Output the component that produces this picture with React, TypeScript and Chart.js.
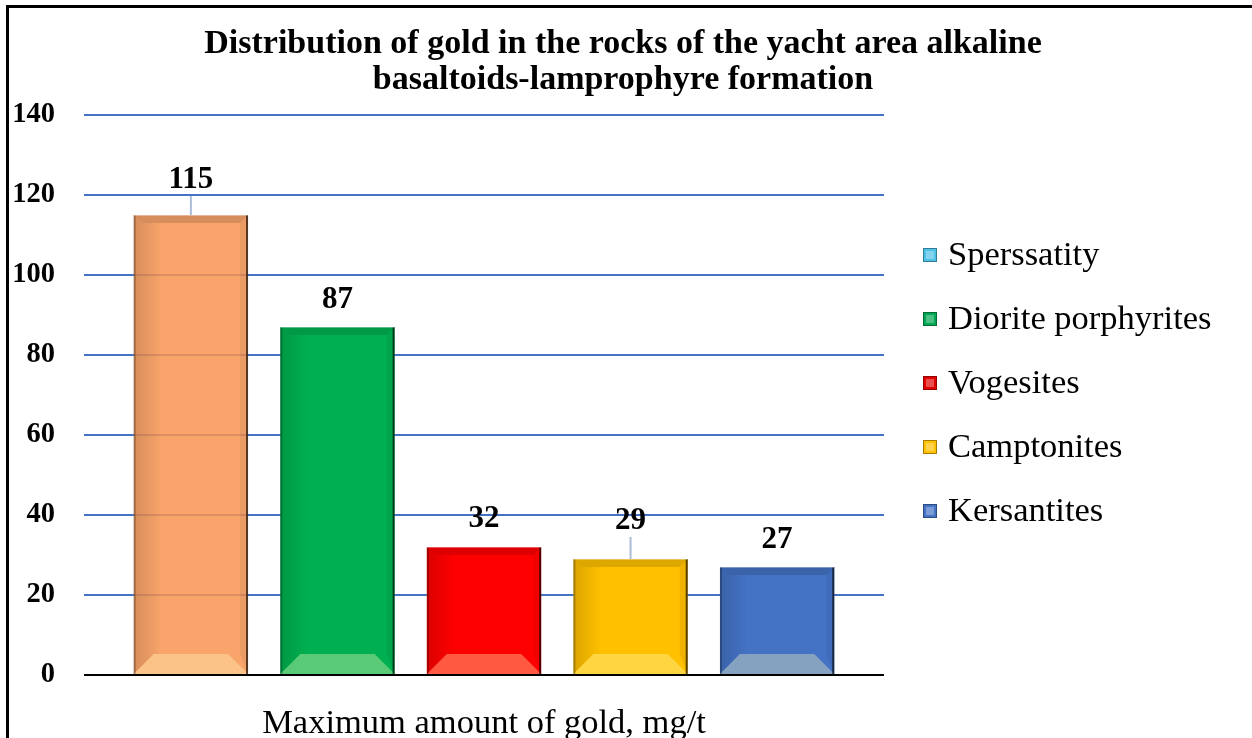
import React, { useEffect, useRef } from "react";
import { Chart, registerables } from "chart.js";

Chart.register(...registerables);

// ---- data ----
const categories = ["Maximum amount of gold, mg/t"];
const seriesNames = ["Sperssatity", "Diorite porphyrites", "Vogesites", "Camptonites", "Kersantites"];
const goldValues = [115, 87, 32, 29, 27];
const yMin = 0;
const yMax = 140;
const yStep = 20;
const titleLines = [
  "Distribution of gold in the rocks of the yacht area alkaline",
  "basaltoids-lamprophyre formation",
];

// ---- styles ----
const barColors = ["rgba(248,148,80,0.85)", "#00B050", "#FF0000", "#FFC000", "#4472C4"];
const legendColors = ["#4FC1E9", "#00A651", "#E00000", "#FFC000", "#4472C4"];
const labelOffsets = [35, 27, 28, 38, 27];
const SERIF = '"Liberation Serif", "Times New Roman", serif';

const framePlugin = {
  id: "frame",
  beforeDraw(chart: any) {
    const ctx = chart.ctx;
    ctx.save();
    ctx.fillStyle = "#fff";
    ctx.fillRect(0, 0, chart.width, chart.height);
    ctx.fillStyle = "#000";
    ctx.fillRect(6, 5, chart.width - 6, 3);
    ctx.fillRect(6, 5, 3, chart.height - 5);
    ctx.restore();
  },
};

const bevelPlugin = {
  id: "bevel",
  afterDatasetsDraw(chart: any) {
    const ctx = chart.ctx;
    ctx.save();
    chart.data.datasets.forEach((ds: any, i: number) => {
      const meta = chart.getDatasetMeta(i);
      const bar: any = meta.data[0];
      if (!bar) return;
      const { x, y, base, width } = bar.getProps(["x", "y", "base", "width"], true);
      const l = x - width / 2;
      const r = x + width / 2;
      const t = y;
      const b = base;
      const s = 8;
      const bb = 20;
      const poly = (pts: number[][], fill: any) => {
        ctx.beginPath();
        ctx.moveTo(pts[0][0], pts[0][1]);
        for (let k = 1; k < pts.length; k++) ctx.lineTo(pts[k][0], pts[k][1]);
        ctx.closePath();
        ctx.fillStyle = fill;
        ctx.fill();
      };
      // top band
      poly([[l, t], [r, t], [r - s, t + s], [l + s, t + s]], "rgba(0,0,0,0.13)");
      // left band (gradient)
      const lg = ctx.createLinearGradient(l, 0, l + s + 20, 0);
      lg.addColorStop(0, "rgba(0,0,0,0.14)");
      lg.addColorStop(1, "rgba(0,0,0,0)");
      poly([[l, t], [l + s, t + s], [l + s + 20, t + s], [l + s + 20, b - bb], [l + bb, b - bb], [l, b]], lg);
      // right band
      poly([[r, t], [r - s, t + s], [r - s, b - bb], [r, b]], "rgba(0,0,0,0.06)");
      // bottom light band
      poly([[l, b], [r, b], [r - bb, b - bb], [l + bb, b - bb]], "rgba(255,255,190,0.35)");
      // edges
      ctx.fillStyle = "rgba(0,0,0,0.65)";
      ctx.fillRect(r - 2, t, 2, b - t);
      ctx.fillStyle = "rgba(0,0,0,0.25)";
      ctx.fillRect(l, t, 2, b - t);
      ctx.fillStyle = "rgba(255,255,255,0.35)";
      ctx.fillRect(l, t, width, 1);
    });
    ctx.restore();
  },
};

const labelPlugin = {
  id: "valueLabels",
  afterDraw(chart: any) {
    const ctx = chart.ctx;
    ctx.save();
    ctx.font = `bold 31px ${SERIF}`;
    ctx.fillStyle = "#000";
    ctx.textAlign = "center";
    ctx.textBaseline = "middle";
    chart.data.datasets.forEach((ds: any, i: number) => {
      const bar: any = chart.getDatasetMeta(i).data[0];
      if (!bar) return;
      const { x, y } = bar.getProps(["x", "y"], true);
      const off = labelOffsets[i];
      const cy = y - off;
      if (off > 30) {
        ctx.strokeStyle = "#A9BCD8";
        ctx.lineWidth = 2;
        ctx.beginPath();
        ctx.moveTo(x, cy + 16);
        ctx.lineTo(x, y);
        ctx.stroke();
      }
      ctx.fillText(String(ds.data[0]), x, cy);
    });
    ctx.restore();
  },
};

const titlePlugin = {
  id: "customTitle",
  afterDraw(chart: any) {
    const ctx = chart.ctx;
    ctx.save();
    ctx.font = `bold 34px ${SERIF}`;
    ctx.fillStyle = "#000";
    ctx.textAlign = "center";
    ctx.textBaseline = "middle";
    titleLines.forEach((line, i) => ctx.fillText(line, 623, 44 + i * 36));
    ctx.restore();
  },
};

const legendPlugin = {
  id: "customLegend",
  afterDraw(chart: any) {
    const ctx = chart.ctx;
    ctx.save();
    ctx.font = `34.5px ${SERIF}`;
    ctx.textAlign = "left";
    ctx.textBaseline = "middle";
    seriesNames.forEach((name, i) => {
      const cy = 255 + i * 64;
      ctx.fillStyle = legendColors[i];
      ctx.fillRect(923, cy - 7, 14, 14);
      ctx.strokeStyle = "rgba(0,0,0,0.35)";
      ctx.lineWidth = 1;
      ctx.strokeRect(923.5, cy - 6.5, 13, 13);
      ctx.fillStyle = "rgba(255,255,255,0.3)";
      ctx.fillRect(926, cy - 4, 8, 8);
      ctx.fillStyle = "#000";
      ctx.fillText(name, 948, cy + 1);
    });
    ctx.restore();
  },
};

export default function App() {
  const ref = useRef<HTMLCanvasElement | null>(null);
  useEffect(() => {
    if (!ref.current) return;
    const chart = new Chart(ref.current, {
      type: "bar",
      data: {
        labels: categories,
        datasets: seriesNames.map((name, i) => ({
          label: name,
          data: [goldValues[i]],
          backgroundColor: barColors[i],
          borderWidth: 0,
          categoryPercentage: 0.916,
          barPercentage: 0.78,
        })),
      },
      options: {
        animation: false,
        responsive: false,
        layout: { padding: { left: 0, right: 368, top: 115, bottom: 0 } },
        plugins: {
          legend: { display: false },
          title: { display: false },
          tooltip: { enabled: false },
        },
        scales: {
          x: {
            grid: { display: false },
            border: { display: false },
            ticks: {
              color: "#000",
              font: { family: SERIF, size: 34.5 },
              padding: 20,
              maxRotation: 0,
            },
            afterFit(scale: any) {
              scale.height = 63;
            },
          },
          y: {
            min: yMin,
            max: yMax,
            border: { display: false },
            grid: {
              drawTicks: false,
              lineWidth: 2,
              color: (c: any) => (c.tick && c.tick.value === 0 ? "#000" : "#4472C4"),
            },
            ticks: {
              stepSize: yStep,
              color: "#000",
              font: { family: SERIF, size: 28.5, weight: "bold" },
              padding: 29,
            },
            afterFit(scale: any) {
              scale.width = 84;
            },
          },
        },
      },
      plugins: [framePlugin, bevelPlugin, labelPlugin, titlePlugin, legendPlugin],
    } as any);
    return () => chart.destroy();
  }, []);
  return (
    <div style={{ position: "absolute", left: 0, top: 0, width: 1252, height: 738 }}>
      <canvas ref={ref} width={1252} height={738} style={{ width: 1252, height: 738 }} />
    </div>
  );
}
